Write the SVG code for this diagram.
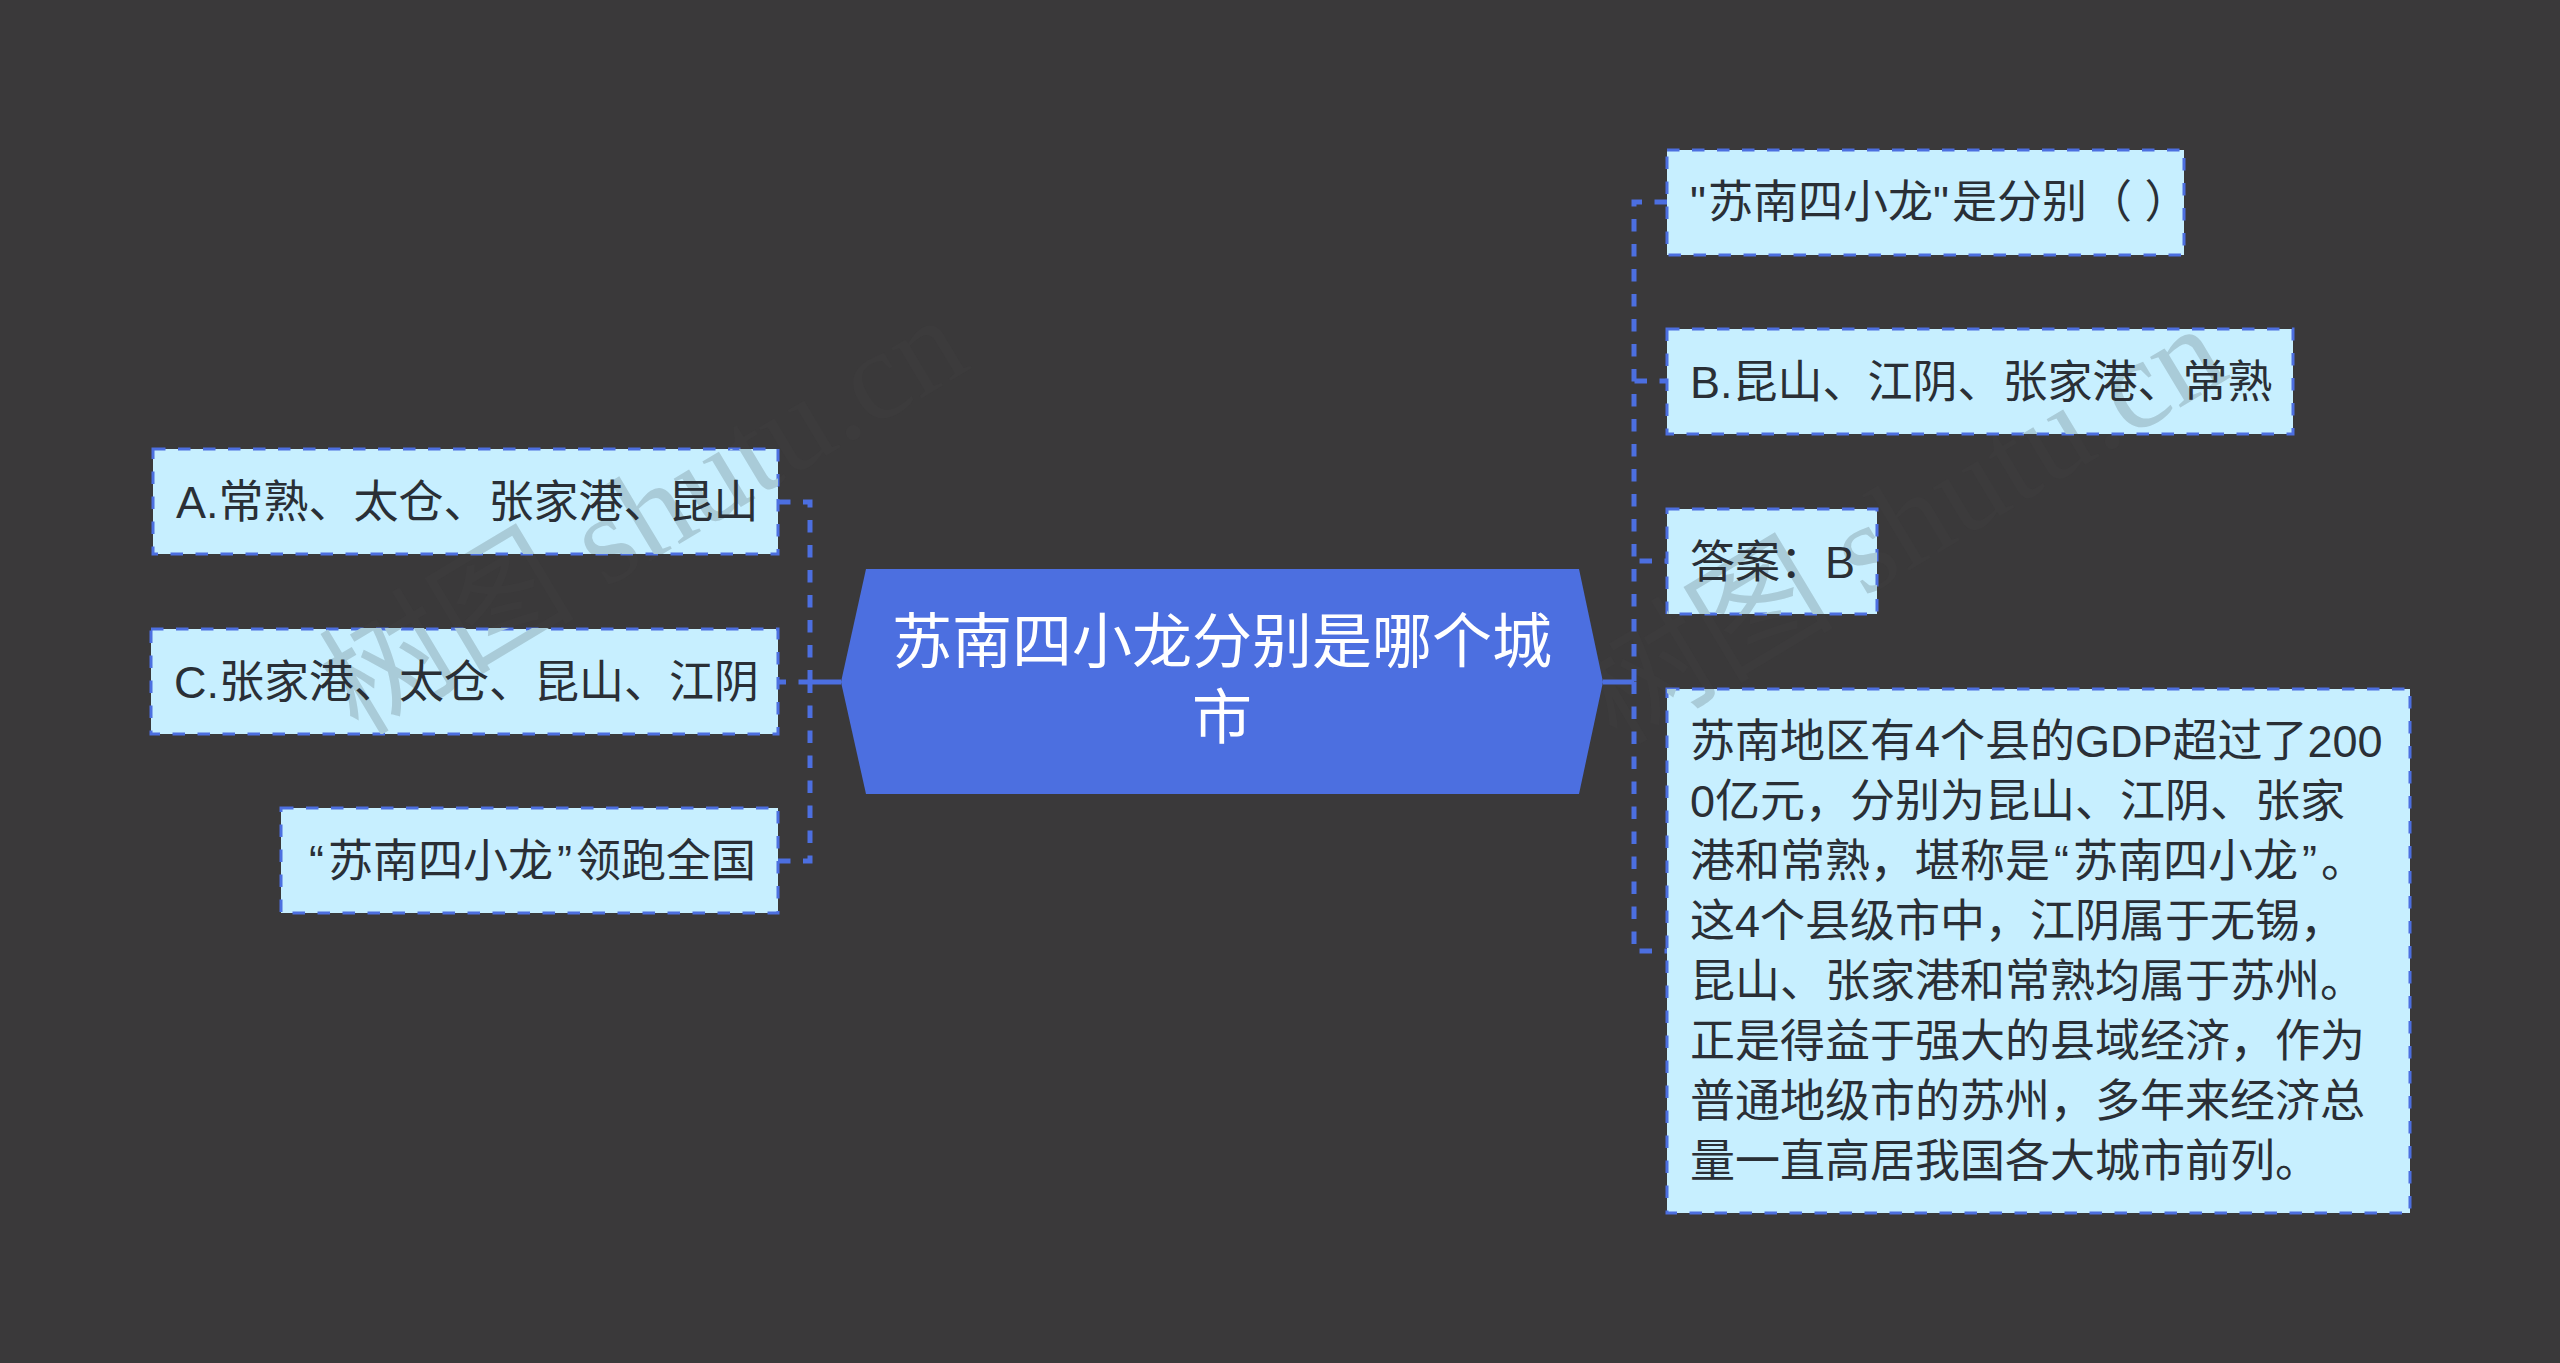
<svg xmlns="http://www.w3.org/2000/svg" width="2560" height="1363" viewBox="0 0 2560 1363">
<style>
.t{font-family:"Liberation Sans","Noto Sans CJK SC",sans-serif;font-size:45px;fill:#2a2f36}
.c{font-family:"Liberation Sans","Noto Sans CJK SC",sans-serif;font-size:60px;fill:#fff;text-anchor:middle}
.b{fill:#c7efff;stroke:#4c6fe0;stroke-width:3;stroke-dasharray:12.5 12.5}
.l{fill:none;stroke:#4c6fe0;stroke-width:5;stroke-dasharray:12.5 12.5}
.s{fill:none;stroke:#4c6fe0;stroke-width:5}
.w{font-family:"Liberation Serif","Noto Sans CJK SC",serif;font-size:128px}
</style>
<defs>
<g id="wm"><text class="w" transform="translate(358,737) rotate(-31)">树图 shutu.cn</text><text class="w" transform="translate(1617,746) rotate(-31)">树图 shutu.cn</text></g>
<clipPath id="bx">
<rect x="152" y="449" width="626" height="105"/><rect x="150" y="628" width="628" height="106"/><rect x="281" y="808" width="497" height="105"/>
<rect x="1667" y="149" width="517" height="106"/><rect x="1667" y="329" width="626" height="105"/><rect x="1667" y="509" width="210" height="105"/><rect x="1667" y="689" width="743" height="524"/>
</clipPath>
</defs>
<rect width="2560" height="1363" fill="#3a393a"/>
<use href="#wm" fill="#3c3b3c"/>
<g id="connectors">
<path class="l" d="M778,502H810V682"/>
<path class="l" d="M778,682H799" stroke-dashoffset="4.5"/>
<path class="l" d="M778,861H810V682"/>
<path class="s" d="M799,682H841"/>
<path class="l" d="M1667,202H1634V682"/>
<path class="l" d="M1667,381H1634" stroke-dashoffset="5"/>
<path class="l" d="M1667,561H1634" stroke-dashoffset="10"/>
<path class="l" d="M1667,951H1634V682" stroke-dashoffset="10"/>
<path class="s" d="M1603,682H1634"/>
</g>
<g id="center"><polygon points="866,569 1579,569 1603,682 1579,794 866,794 841,682" fill="#4c6fe0"/>
<text class="c" x="1222" y="663">苏南四小龙分别是哪个城</text><text class="c" x="1222" y="739">市</text></g>
<g id="n-a"><rect class="b" x="153" y="449" width="625" height="105"/></g>
<g id="n-c"><rect class="b" x="151" y="629" width="627" height="105"/></g>
<g id="n-q"><rect class="b" x="281" y="808" width="497" height="105"/></g>
<g id="n-1"><rect class="b" x="1667" y="150" width="517" height="105"/></g>
<g id="n-2"><rect class="b" x="1667" y="329" width="626" height="105"/></g>
<g id="n-3"><rect class="b" x="1667" y="509" width="210" height="105"/></g>
<g id="n-4"><rect class="b" x="1667" y="689" width="743" height="524"/></g>
<g clip-path="url(#bx)"><use href="#wm" fill="#a9cbd8"/></g>
<g id="labels">
<text class="t" x="176" y="518">A.常熟、太仓、张家港、昆山</text>
<text class="t" x="174" y="698">C.张家港、太仓、昆山、江阴</text>
<text class="t" x="309" y="877">“<tspan dx="4">苏南四小龙</tspan><tspan dx="4">”</tspan><tspan dx="4">领跑全国</tspan></text>
<text class="t" x="1690" y="218">"<tspan dx="2">苏南四小龙</tspan>"<tspan dx="3">是分别（ ）</tspan></text>
<text class="t" x="1690" y="398">B.昆山、江阴、张家港、常熟</text>
<text class="t" x="1690" y="578">答案：B</text>
<text class="t" x="1690" y="757">苏南地区有4个县的GDP超过了200</text>
<text class="t" x="1690" y="817">0亿元，分别为昆山、江阴、张家</text>
<text class="t" x="1690" y="877">港和常熟，堪称是<tspan dx="4">“</tspan><tspan dx="4">苏南四小龙</tspan><tspan dx="4">”</tspan><tspan dx="4">。</tspan></text>
<text class="t" x="1690" y="937">这4个县级市中，江阴属于无锡，</text>
<text class="t" x="1690" y="997">昆山、张家港和常熟均属于苏州。</text>
<text class="t" x="1690" y="1057">正是得益于强大的县域经济，作为</text>
<text class="t" x="1690" y="1117">普通地级市的苏州，多年来经济总</text>
<text class="t" x="1690" y="1177">量一直高居我国各大城市前列。</text>
</g>
</svg>
